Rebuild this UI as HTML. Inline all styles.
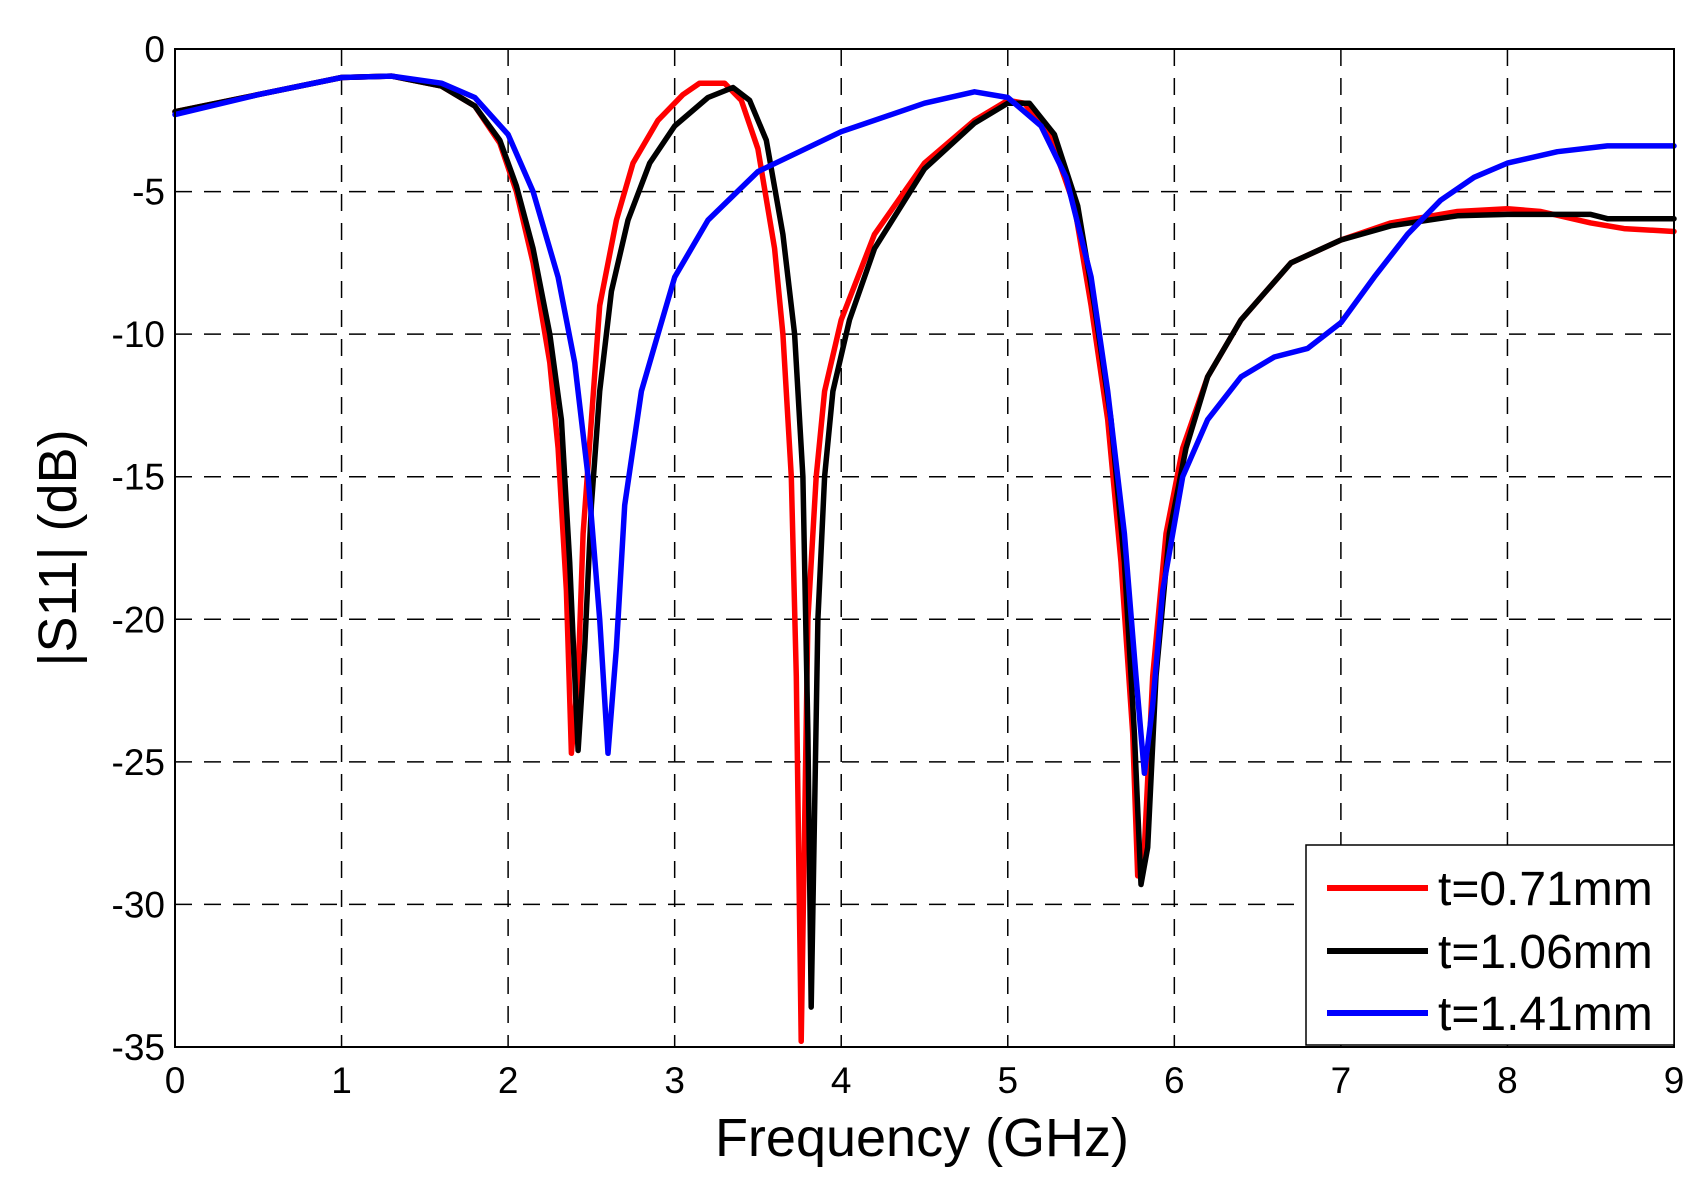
<!DOCTYPE html>
<html><head><meta charset="utf-8"><style>
html,body{margin:0;padding:0;background:#fff;}
svg{display:block;}
text{font-family:"Liberation Sans",Arial,sans-serif;fill:#000;}
</style></head><body>
<svg id="s" width="1703" height="1189" viewBox="0 0 1703 1189" xmlns="http://www.w3.org/2000/svg">
<rect width="1703" height="1189" fill="#fff"/>
<g id="grid" stroke="#000" stroke-width="1.5" stroke-dasharray="17,12" fill="none"></g>
<g id="curves" fill="none" stroke-width="5.5" stroke-linejoin="round" stroke-linecap="round"></g>
<rect x="175" y="49" width="1499" height="998" fill="none" stroke="#000" stroke-width="2"/>
<g id="ticks" font-size="37"></g>
<text x="922" y="1156" font-size="54" text-anchor="middle">Frequency (GHz)</text>
<text transform="translate(76,548) rotate(-90)" font-size="54" text-anchor="middle">|S11| (dB)</text>
<g>
<rect x="1306" y="845" width="368" height="200" fill="#fff" stroke="#000" stroke-width="1.5"/>
<line x1="1327" y1="888" x2="1428" y2="888" stroke="#f00" stroke-width="6"/>
<line x1="1327" y1="951" x2="1428" y2="951" stroke="#000" stroke-width="6"/>
<line x1="1327" y1="1013" x2="1428" y2="1013" stroke="#00f" stroke-width="6"/>
<text x="1438" y="905" font-size="48">t=0.71mm</text>
<text x="1438" y="968" font-size="48">t=1.06mm</text>
<text x="1438" y="1030" font-size="48">t=1.41mm</text>
</g>
</svg>
<script>
var X0=175,X1=1674,Y0=49,Y1=1047;
function px(f){return X0+(X1-X0)*f/9;}
function py(d){return Y0+(Y1-Y0)*(-d)/35;}
var NS="http://www.w3.org/2000/svg";
var g=document.getElementById('grid'),t=document.getElementById('ticks');
for(var i=1;i<9;i++){var l=document.createElementNS(NS,'line');l.setAttribute('x1',px(i));l.setAttribute('x2',px(i));l.setAttribute('y1',Y0);l.setAttribute('y2',Y1);g.appendChild(l);}
for(var j=1;j<7;j++){var l=document.createElementNS(NS,'line');l.setAttribute('y1',py(-5*j));l.setAttribute('y2',py(-5*j));l.setAttribute('x1',X0);l.setAttribute('x2',X1);g.appendChild(l);}
for(var i=0;i<=9;i++){var e=document.createElementNS(NS,'text');e.setAttribute('x',px(i));e.setAttribute('y',1093);e.setAttribute('text-anchor','middle');e.textContent=i;t.appendChild(e);}
for(var j=0;j<=7;j++){var e=document.createElementNS(NS,'text');e.setAttribute('x',165);e.setAttribute('y',py(-5*j)+13);e.setAttribute('text-anchor','end');e.textContent=j==0?'0':'-'+(5*j);t.appendChild(e);}
var red=[[0,-2.2],[0.5,-1.6],[1,-1.0],[1.3,-0.95],[1.6,-1.3],[1.8,-2],[1.95,-3.3],[2.05,-5],[2.15,-7.5],[2.25,-11],[2.3,-14],[2.35,-19],[2.38,-24.7],[2.42,-22],[2.45,-17],[2.5,-13],[2.55,-9],[2.65,-6],[2.75,-4],[2.9,-2.5],[3.05,-1.6],[3.15,-1.2],[3.3,-1.2],[3.4,-1.8],[3.5,-3.5],[3.6,-7],[3.65,-10],[3.7,-15],[3.73,-22],[3.76,-34.8],[3.8,-20],[3.85,-15],[3.9,-12],[4.0,-9.5],[4.2,-6.5],[4.5,-4],[4.8,-2.5],[5.0,-1.8],[5.1,-1.9],[5.25,-3],[5.4,-5.5],[5.5,-9],[5.6,-13],[5.68,-18],[5.75,-24],[5.78,-29],[5.82,-28],[5.87,-22],[5.95,-17],[6.05,-14],[6.2,-11.5],[6.4,-9.5],[6.7,-7.5],[7,-6.7],[7.3,-6.1],[7.7,-5.7],[8,-5.6],[8.2,-5.7],[8.5,-6.1],[8.7,-6.3],[9,-6.4]];
var black=[[0,-2.2],[0.5,-1.6],[1,-1.0],[1.3,-0.95],[1.6,-1.3],[1.8,-2],[1.95,-3.2],[2.05,-4.8],[2.15,-7],[2.25,-10],[2.32,-13],[2.37,-18],[2.42,-24.6],[2.46,-21],[2.5,-16],[2.55,-12],[2.62,-8.5],[2.72,-6],[2.85,-4],[3.0,-2.7],[3.2,-1.7],[3.35,-1.35],[3.45,-1.8],[3.55,-3.2],[3.65,-6.5],[3.72,-10],[3.77,-15],[3.8,-24],[3.82,-33.6],[3.86,-20],[3.9,-15],[3.95,-12],[4.05,-9.5],[4.2,-7],[4.5,-4.2],[4.8,-2.6],[5.0,-1.9],[5.13,-1.9],[5.28,-3],[5.42,-5.5],[5.52,-9],[5.62,-13],[5.7,-18],[5.76,-24],[5.8,-29.3],[5.84,-28],[5.89,-22],[5.97,-17],[6.07,-14],[6.2,-11.5],[6.4,-9.5],[6.7,-7.5],[7,-6.7],[7.3,-6.2],[7.7,-5.85],[8,-5.8],[8.5,-5.8],[8.6,-5.95],[9,-5.95]];
var blue=[[0,-2.3],[0.5,-1.6],[1,-1.0],[1.3,-0.95],[1.6,-1.2],[1.8,-1.7],[2.0,-3],[2.15,-5],[2.3,-8],[2.4,-11],[2.48,-15],[2.55,-20],[2.6,-24.7],[2.65,-21],[2.7,-16],[2.8,-12],[2.9,-10],[3.0,-8],[3.2,-6],[3.5,-4.3],[4,-2.9],[4.5,-1.9],[4.8,-1.5],[5.0,-1.7],[5.2,-2.7],[5.35,-4.5],[5.5,-8],[5.6,-12],[5.7,-17],[5.77,-22],[5.82,-25.4],[5.87,-23],[5.93,-19],[6.05,-15],[6.2,-13],[6.4,-11.5],[6.6,-10.8],[6.8,-10.5],[7.0,-9.6],[7.2,-8],[7.4,-6.5],[7.6,-5.3],[7.8,-4.5],[8,-4],[8.3,-3.6],[8.6,-3.4],[9,-3.4]];
var c=document.getElementById('curves');
[[red,'#f00'],[black,'#000'],[blue,'#00f']].forEach(function(s){
 var p=document.createElementNS(NS,'polyline');
 p.setAttribute('points',s[0].map(function(q){return px(q[0]).toFixed(1)+','+py(q[1]).toFixed(1);}).join(' '));
 p.setAttribute('stroke',s[1]);c.appendChild(p);});
</script>
</body></html>
